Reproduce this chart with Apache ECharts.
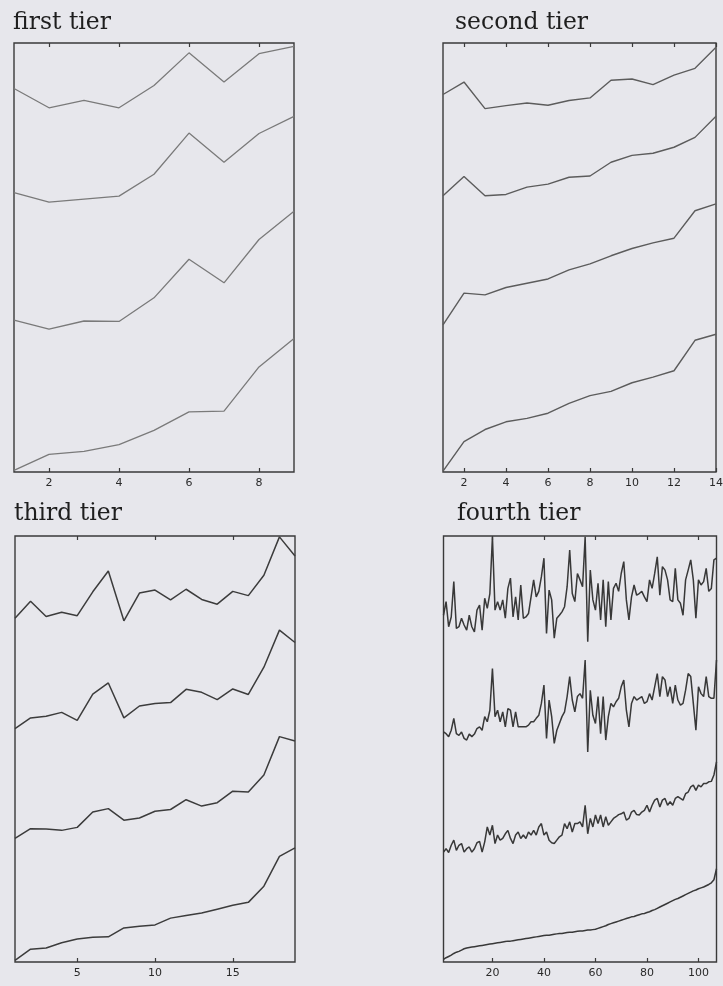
<!DOCTYPE html>
<html>
<head>
<meta charset="utf-8">
<script src="https://cdn.jsdelivr.net/npm/echarts@6/dist/echarts.min.js"></script>
<style>
html,body{margin:0;padding:0;background:#e7e7ec;}
#chart{width:723px;height:986px;}
</style>
</head>
<body>
<div id="chart"></div>
<script>
// ---- titles ----
const titles = ['first tier', 'second tier', 'third tier', 'fourth tier'];

// ---- tick labels ----
const ticks1 = [2, 4, 6, 8];
const ticks2 = [2, 4, 6, 8, 10, 12, 14];
const ticks3 = [5, 10, 15];
const ticks4 = [20, 40, 60, 80, 100];

// ---- first tier (x = 1..9) ----
const t1a = [89.4, 84.9, 86.6, 84.9, 90.1, 97.7, 90.9, 97.5, 99.2];
const t1b = [65.1, 62.9, 63.6, 64.3, 69.4, 79.0, 72.2, 78.9, 82.9];
const t1c = [35.4, 33.3, 35.2, 35.1, 40.6, 49.6, 44.1, 54.2, 60.8];
const t1d = [0.4, 4.1, 4.8, 6.4, 9.7, 14.0, 14.2, 24.5, 31.1];

// ---- second tier (x = 1..14) ----
const t2a = [88.0, 90.9, 84.7, 85.4, 86.0, 85.5, 86.6, 87.2, 91.3, 91.6, 90.3, 92.5, 94.1, 99.0];
const t2b = [64.4, 68.9, 64.4, 64.7, 66.4, 67.1, 68.7, 69.0, 72.2, 73.8, 74.3, 75.7, 78.0, 82.9];
const t2c = [34.3, 41.7, 41.3, 43.0, 44.0, 45.0, 47.1, 48.5, 50.4, 52.1, 53.4, 54.5, 60.9, 62.5];
const t2d = [0.2, 7.1, 9.9, 11.7, 12.5, 13.7, 16.0, 17.8, 18.8, 20.8, 22.1, 23.6, 30.7, 32.1];

// ---- third tier (x = 1..19) ----
const t3a = [80.7, 84.7, 81.1, 82.1, 81.3, 86.9, 91.8, 80.1, 86.6, 87.3, 85.0, 87.5, 85.1, 84.0, 87.0, 86.0, 90.8, 99.8, 95.3];
const t3b = [54.8, 57.3, 57.7, 58.6, 56.7, 62.9, 65.5, 57.3, 60.1, 60.7, 60.9, 64.0, 63.3, 61.6, 64.1, 62.8, 69.2, 77.9, 75.0];
const t3c = [29.0, 31.3, 31.2, 30.9, 31.6, 35.2, 36.0, 33.3, 33.8, 35.4, 35.8, 38.1, 36.6, 37.4, 40.1, 39.9, 43.9, 52.9, 51.9];
const t3d = [0.4, 3.0, 3.3, 4.5, 5.4, 5.8, 5.9, 8.0, 8.4, 8.7, 10.3, 10.9, 11.5, 12.4, 13.3, 14.0, 17.8, 24.8, 26.8];

// ---- fourth tier (x = 1..107) ----
const t4a = [
  81.4, 84.6, 78.7, 81.0, 89.3, 78.3, 78.7, 80.7, 79.1, 77.9,
  81.4, 78.7, 77.5, 82.6, 83.8, 77.9, 85.4, 83.0, 86.5, 99.8,
  82.6, 84.6, 82.6, 85.0, 80.7, 87.7, 90.1, 81.0, 85.7, 80.3,
  88.5, 80.7, 81.0, 81.8, 85.7, 89.7, 85.7, 87.0, 90.4, 94.8,
  77.1, 87.3, 85.0, 76.0, 80.7, 81.4, 82.2, 83.4, 88.1, 96.7,
  86.5, 84.6, 91.2, 89.7, 88.1, 99.8, 75.2, 92.0, 85.0, 82.6,
  88.9, 80.3, 89.7, 78.7, 89.3, 80.3, 87.7, 88.9, 87.0, 91.2,
  94.0, 85.0, 80.3, 85.7, 88.5, 86.1, 86.5, 87.0, 85.7, 84.6,
  89.7, 87.7, 91.2, 95.1, 86.1, 92.8, 92.0, 89.7, 85.0, 84.6,
  92.4, 85.0, 84.2, 81.4, 89.7, 92.0, 94.4, 89.7, 80.7, 89.7,
  88.5, 89.3, 92.4, 87.0, 87.7, 94.4, 94.8
];
const t4b = [
  54.0, 53.6, 52.9, 54.4, 57.2, 53.6, 53.2, 54.0, 52.5, 52.1,
  53.5, 52.9, 53.5, 54.8, 55.2, 54.4, 57.6, 56.4, 59.1, 68.9,
  57.6, 59.1, 56.4, 58.7, 55.2, 59.5, 59.1, 55.2, 58.7, 55.2,
  55.2, 55.2, 55.2, 55.6, 56.4, 56.4, 57.2, 57.9, 60.7, 65.0,
  52.5, 61.5, 57.6, 51.3, 54.4, 56.0, 57.6, 58.7, 62.3, 67.0,
  61.5, 58.7, 62.3, 63.0, 61.9, 70.9, 49.3, 63.8, 57.9, 56.0,
  62.3, 53.6, 62.3, 52.1, 57.6, 60.7, 59.9, 61.1, 61.9, 64.6,
  66.2, 59.1, 55.2, 60.7, 62.3, 61.5, 61.9, 62.3, 60.7, 61.1,
  63.0, 61.5, 64.6, 67.7, 62.3, 67.0, 66.2, 62.3, 64.6, 60.7,
  65.0, 61.5, 60.3, 60.7, 63.8, 67.7, 67.0, 60.7, 54.4, 64.6,
  63.0, 62.3, 67.0, 62.3, 61.9, 61.9, 70.9
];
const t4c = [
  25.8, 26.6, 25.7, 27.4, 28.6, 26.2, 27.4, 27.8, 25.8, 26.6,
  27.0, 25.8, 26.6, 28.0, 28.3, 25.8, 28.2, 31.7, 29.8, 32.1,
  27.8, 29.8, 28.6, 29.0, 30.1, 30.9, 29.0, 27.8, 29.8, 30.5,
  29.0, 29.8, 29.0, 30.5, 29.8, 30.9, 29.8, 31.7, 32.5, 29.8,
  30.5, 28.6, 28.0, 27.8, 28.6, 29.4, 29.8, 32.5, 31.3, 32.9,
  30.5, 32.5, 32.5, 32.9, 31.7, 36.8, 30.1, 33.7, 31.7, 34.5,
  32.5, 34.5, 31.7, 34.1, 32.1, 32.9, 33.7, 34.1, 34.6, 34.8,
  35.2, 33.3, 33.7, 35.2, 35.6, 34.6, 34.5, 35.2, 35.6, 36.8,
  35.2, 36.8, 38.0, 38.4, 36.4, 38.0, 38.4, 36.8, 37.6, 36.8,
  38.4, 38.8, 38.4, 38.0, 39.5, 39.9, 41.1, 41.5, 40.3, 41.5,
  41.1, 41.9, 41.9, 42.3, 42.4, 43.9, 47.0
];
const t4d = [
  0.6, 1.0, 1.3, 1.6, 2.0, 2.3, 2.5, 2.8, 3.1, 3.3,
  3.4, 3.5, 3.6, 3.7, 3.8, 3.9, 4.0, 4.1, 4.2, 4.3,
  4.4, 4.5, 4.6, 4.7, 4.8, 4.9, 4.9, 5.0, 5.1, 5.2,
  5.3, 5.4, 5.5, 5.6, 5.7, 5.8, 5.9, 6.0, 6.1, 6.2,
  6.3, 6.3, 6.4, 6.5, 6.6, 6.7, 6.7, 6.8, 6.9, 7.0,
  7.0, 7.1, 7.2, 7.3, 7.3, 7.4, 7.5, 7.5, 7.6, 7.7,
  7.9, 8.1, 8.3, 8.5, 8.8, 9.0, 9.2, 9.4, 9.6, 9.8,
  10.0, 10.2, 10.4, 10.6, 10.7, 10.9, 11.1, 11.3, 11.4, 11.6,
  11.8, 12.1, 12.3, 12.6, 12.9, 13.2, 13.5, 13.8, 14.1, 14.4,
  14.7, 14.9, 15.2, 15.5, 15.8, 16.1, 16.4, 16.7, 16.9, 17.2,
  17.4, 17.6, 17.9, 18.2, 18.6, 19.3, 21.9
];

const panels = [
  { title: titles[0], ticks: ticks1, series: [t1a, t1b, t1c, t1d], color: '#7a7a7a', width: 1.3,
    grid: { left: 14, top: 43, width: 280, height: 429 }, titlePos: { left: 13, top: 11 } },
  { title: titles[1], ticks: ticks2, series: [t2a, t2b, t2c, t2d], color: '#5c5c5c', width: 1.4,
    grid: { left: 443, top: 43, width: 273, height: 429 }, titlePos: { left: 455, top: 11 } },
  { title: titles[2], ticks: ticks3, series: [t3a, t3b, t3c, t3d], color: '#3c3c3c', width: 1.5,
    grid: { left: 15, top: 536, width: 280, height: 426 }, titlePos: { left: 14, top: 502 } },
  { title: titles[3], ticks: ticks4, series: [t4a, t4b, t4c, t4d], color: '#383838', width: 1.5,
    grid: { left: 443.5, top: 536, width: 273, height: 426 }, titlePos: { left: 457, top: 502 } }
];

const option = {
  animation: false,
  backgroundColor: '#e7e7ec',
  title: [], grid: [], xAxis: [], yAxis: [], series: []
};

panels.forEach((p, gi) => {
  const n = p.series[0].length;
  option.title.push({
    text: p.title, left: p.titlePos.left, top: p.titlePos.top, padding: 0,
    textStyle: { fontFamily: 'DejaVu Serif', fontSize: 23.5, fontWeight: 'normal', color: '#1e1e1e' }
  });
  option.grid.push(Object.assign({
    show: true, borderColor: '#3a3a3a', borderWidth: 1.4, backgroundColor: 'transparent',
    containLabel: false, outerBoundsMode: 'none'
  }, p.grid));
  const tickCommon = { show: true, inside: true, length: 4, customValues: p.ticks,
    lineStyle: { color: '#3a3a3a', width: 1.2 } };
  option.xAxis.push({
    type: 'value', gridIndex: gi, position: 'bottom', min: 1, max: n,
    axisLine: { show: false }, splitLine: { show: false },
    axisTick: tickCommon,
    axisLabel: { show: true, customValues: p.ticks, margin: 6, fontFamily: 'DejaVu Sans',
      fontSize: 11, color: '#2a2a2a' }
  });
  option.xAxis.push({
    type: 'value', gridIndex: gi, position: 'top', min: 1, max: n,
    axisLine: { show: false }, splitLine: { show: false },
    axisTick: tickCommon, axisLabel: { show: false }
  });
  option.yAxis.push({
    type: 'value', gridIndex: gi, min: 0, max: 100, show: false,
    splitLine: { show: false }
  });
  p.series.forEach(vals => {
    option.series.push({
      type: 'line', xAxisIndex: gi * 2, yAxisIndex: gi,
      data: vals.map((v, i) => [i + 1, v]),
      showSymbol: false, symbol: 'none', silent: true,
      lineStyle: { color: p.color, width: p.width }
    });
  });
});

const chart = echarts.init(document.getElementById('chart'), null, { renderer: 'canvas' });
chart.setOption(option);
</script>
</body>
</html>
